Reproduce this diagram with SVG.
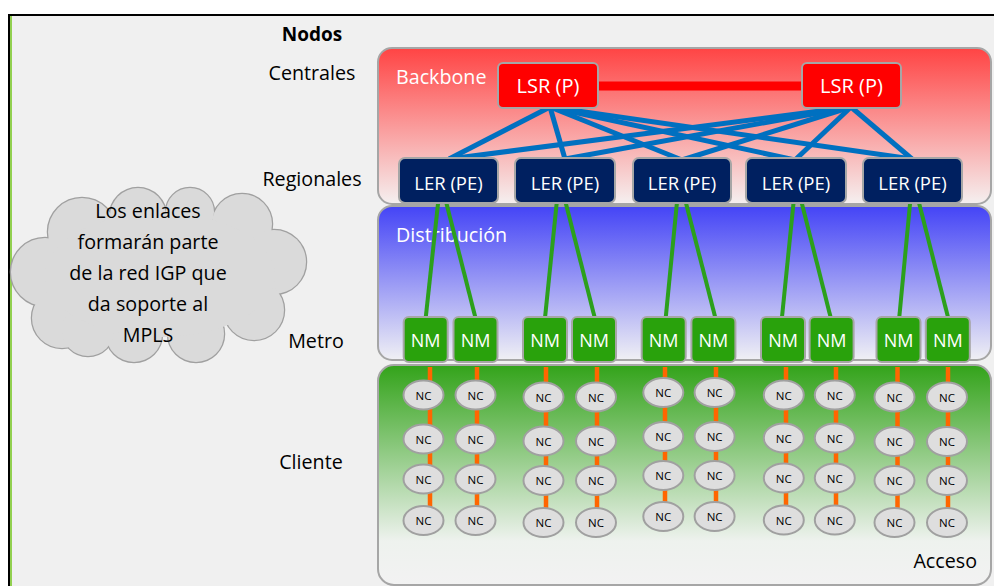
<svg xmlns="http://www.w3.org/2000/svg" width="994" height="586" viewBox="0 0 994 586">
  <defs>
    <linearGradient id="gBack" x1="0" y1="0" x2="0" y2="1">
      <stop offset="0" stop-color="#ff4444"/>
      <stop offset="1" stop-color="#f5f0f0"/>
    </linearGradient>
    <linearGradient id="gDist" x1="0" y1="0" x2="0" y2="1">
      <stop offset="0" stop-color="#4444f6"/>
      <stop offset="1" stop-color="#f0f0f4"/>
    </linearGradient>
    <linearGradient id="gAcc" x1="0" y1="0" x2="0" y2="1">
      <stop offset="0" stop-color="#33a31a"/>
      <stop offset="0.8" stop-color="#eef2ee"/>
      <stop offset="1" stop-color="#f2f2f2"/>
    </linearGradient>
    <style>
      text { font-family: "Open Sans", "Noto Sans", "Liberation Sans", sans-serif; }
      .lbl { font-size: 19.7px; fill: #000; text-anchor: middle; }
      .wlbl { font-size: 19.7px; fill: #fff; }
      .panel { stroke: #a6a6a6; stroke-width: 2; }
      .lsr rect { fill: #ff0000; stroke: #a6a6a6; stroke-width: 2; }
      .lsr text { fill: #fff; font-size: 20px; text-anchor: middle; }
      .ler rect { fill: #002060; stroke: #a6a6a6; stroke-width: 2; }
      .ler text { fill: #fff; font-size: 18.5px; text-anchor: middle; }
      .nm rect { fill: #29a20c; stroke: #a6a6a6; stroke-width: 2; }
      .nm text { fill: #fff; font-size: 18px; text-anchor: middle; }
      .nc ellipse { fill: #dedede; stroke: #a0a0a0; stroke-width: 2; }
      .nc text { fill: #000; font-size: 11.5px; text-anchor: middle; }
      .blue line { stroke: #0070c0; stroke-width: 5; }
      .green line { stroke: #2ca01c; stroke-width: 4; }
      .orange line { stroke: #ff6600; stroke-width: 4.5; }
      .cloudS { fill: none; stroke: #a0a0a0; stroke-width: 2.5; }
      .cloudF { fill: #dadada; stroke: none; }
    </style>
  </defs>

  <!-- frame -->
  <rect x="0" y="0" width="994" height="586" fill="#ffffff"/>
  <rect x="10" y="16" width="984" height="570" fill="#f0f0f0"/>
  <line x1="8" y1="15" x2="994" y2="15" stroke="#000" stroke-width="2"/>
  <line x1="9" y1="14" x2="9" y2="586" stroke="#000" stroke-width="2"/>
  <line x1="11" y1="16" x2="11" y2="586" stroke="#92d050" stroke-width="2"/>

  <!-- panels -->
  <g id="panel-backbone">
    <rect class="panel" x="378" y="48" width="613" height="156" rx="14" fill="url(#gBack)"/>
    <text class="wlbl" x="396" y="84">Backbone</text>
  </g>
  <g id="panel-distribucion">
    <rect class="panel" x="378" y="206" width="613" height="154" rx="14" fill="url(#gDist)"/>
    <text class="wlbl" x="396" y="242">Distribución</text>
  </g>
  <g id="panel-acceso">
    <rect class="panel" x="378" y="365" width="613" height="220" rx="16" fill="url(#gAcc)"/>
    <text class="lbl" x="977" y="568" style="text-anchor:end">Acceso</text>
  </g>

  <!-- level labels -->
  <g id="labels">
    <text class="lbl" x="312" y="41" style="font-weight:bold;font-size:19px">Nodos</text>
    <text class="lbl" x="312" y="80">Centrales</text>
    <text class="lbl" x="312" y="186">Regionales</text>
    <text class="lbl" x="316" y="348">Metro</text>
    <text class="lbl" x="311" y="469">Cliente</text>
  </g>

  <!-- cloud note -->
  <g id="cloud">
    <g class="cloudS">
      <circle cx="45" cy="272" r="34"/>
      <circle cx="62" cy="318" r="30"/>
      <circle cx="82" cy="232" r="34"/>
      <circle cx="138" cy="216" r="28"/>
      <circle cx="190" cy="212" r="24"/>
      <circle cx="242" cy="224" r="30"/>
      <circle cx="274" cy="262" r="32"/>
      <circle cx="254" cy="310" r="30"/>
      <circle cx="196" cy="334" r="28"/>
      <circle cx="134" cy="334" r="28"/>
      <circle cx="88" cy="330" r="26"/>
    </g>
    <g class="cloudF">
      <circle cx="45" cy="272" r="34"/>
      <circle cx="62" cy="318" r="30"/>
      <circle cx="82" cy="232" r="34"/>
      <circle cx="138" cy="216" r="28"/>
      <circle cx="190" cy="212" r="24"/>
      <circle cx="242" cy="224" r="30"/>
      <circle cx="274" cy="262" r="32"/>
      <circle cx="254" cy="310" r="30"/>
      <circle cx="196" cy="334" r="28"/>
      <circle cx="134" cy="334" r="28"/>
      <circle cx="88" cy="330" r="26"/>
      <ellipse cx="160" cy="275" rx="115" ry="62"/>
    </g>
    <text class="lbl" x="148" y="218">Los enlaces</text>
    <text class="lbl" x="148" y="249">formarán parte</text>
    <text class="lbl" x="148" y="280">de la red IGP que</text>
    <text class="lbl" x="148" y="311">da soporte al</text>
    <text class="lbl" x="148" y="342">MPLS</text>
  </g>

  <!-- connectors -->
  <g id="connectors">
    <line x1="598" y1="86" x2="802" y2="86" stroke="#ff0000" stroke-width="9"/>
    <g class="blue">
      <line x1="550" y1="107" x2="449" y2="159"/>
      <line x1="550" y1="107" x2="565" y2="159"/>
      <line x1="550" y1="107" x2="682" y2="160"/>
      <line x1="550" y1="107" x2="795" y2="160"/>
      <line x1="550" y1="107" x2="912" y2="159"/>
      <line x1="851" y1="107" x2="449" y2="159"/>
      <line x1="851" y1="107" x2="565" y2="159"/>
      <line x1="851" y1="107" x2="682" y2="160"/>
      <line x1="851" y1="107" x2="795" y2="160"/>
      <line x1="851" y1="107" x2="912" y2="159"/>
    </g>
    <g class="green">
      <line x1="438.4" y1="200" x2="425.7" y2="318"/>
      <line x1="445.6" y1="200" x2="475.5" y2="318"/>
      <line x1="557" y1="200" x2="545" y2="318"/>
      <line x1="565" y1="200" x2="594.8" y2="318"/>
      <line x1="677.2" y1="200" x2="665.7" y2="318"/>
      <line x1="685.2" y1="200" x2="715.4" y2="318"/>
      <line x1="793.8" y1="200" x2="781.9" y2="318"/>
      <line x1="801" y1="200" x2="830.8" y2="318"/>
      <line x1="910.4" y1="200" x2="899.2" y2="318"/>
      <line x1="918.3" y1="200" x2="948.2" y2="318"/>
    </g>
    <g class="orange">
      <line x1="430" y1="367" x2="430" y2="520"/>
      <line x1="477" y1="367" x2="477" y2="520"/>
      <line x1="546" y1="367" x2="546" y2="522"/>
      <line x1="597" y1="367" x2="597" y2="522"/>
      <line x1="665" y1="367" x2="665" y2="516"/>
      <line x1="716" y1="367" x2="716" y2="516"/>
      <line x1="786" y1="367" x2="786" y2="520"/>
      <line x1="836" y1="367" x2="836" y2="520"/>
      <line x1="897.5" y1="367" x2="897.5" y2="522"/>
      <line x1="948" y1="367" x2="948" y2="522"/>
    </g>
  </g>

  <!-- LSR -->
  <g id="lsr-1" class="lsr"><rect x="498" y="63" width="100" height="45" rx="5"/><text x="548" y="93">LSR (P)</text></g>
  <g id="lsr-2" class="lsr"><rect x="802" y="63" width="99" height="45" rx="5"/><text x="851.5" y="93">LSR (P)</text></g>

  <!-- LER -->
  <g id="ler-1" class="ler"><rect x="399" y="158" width="99" height="45" rx="6"/><text x="448.5" y="190">LER (PE)</text></g>
  <g id="ler-2" class="ler"><rect x="515" y="158" width="100" height="45" rx="6"/><text x="565" y="190">LER (PE)</text></g>
  <g id="ler-3" class="ler"><rect x="633" y="158" width="98" height="45" rx="6"/><text x="682" y="190">LER (PE)</text></g>
  <g id="ler-4" class="ler"><rect x="746" y="158" width="100" height="45" rx="6"/><text x="796" y="190">LER (PE)</text></g>
  <g id="ler-5" class="ler"><rect x="863" y="158" width="99" height="45" rx="6"/><text x="912.5" y="190">LER (PE)</text></g>

  <!-- NM -->
  <g id="nm-1" class="nm"><rect x="403.7" y="317" width="44" height="45" rx="5"/><text x="425.7" y="347">NM</text></g>
  <g id="nm-2" class="nm"><rect x="453.5" y="317" width="44" height="45" rx="5"/><text x="475.5" y="347">NM</text></g>
  <g id="nm-3" class="nm"><rect x="523" y="317" width="44" height="45" rx="5"/><text x="545" y="347">NM</text></g>
  <g id="nm-4" class="nm"><rect x="572" y="317" width="44" height="45" rx="5"/><text x="594" y="347">NM</text></g>
  <g id="nm-5" class="nm"><rect x="641.7" y="317" width="44" height="45" rx="5"/><text x="663.7" y="347">NM</text></g>
  <g id="nm-6" class="nm"><rect x="691.4" y="317" width="44" height="45" rx="5"/><text x="713.4" y="347">NM</text></g>
  <g id="nm-7" class="nm"><rect x="761" y="317" width="44" height="45" rx="5"/><text x="783" y="347">NM</text></g>
  <g id="nm-8" class="nm"><rect x="809.6" y="317" width="44" height="45" rx="5"/><text x="831.6" y="347">NM</text></g>
  <g id="nm-9" class="nm"><rect x="876.5" y="317" width="44" height="45" rx="5"/><text x="898.5" y="347">NM</text></g>
  <g id="nm-10" class="nm"><rect x="925.8" y="317" width="44" height="45" rx="5"/><text x="947.8" y="347">NM</text></g>

  <!-- NC column 1 -->
  <g id="nc-1-1" class="nc"><ellipse cx="423.5" cy="395" rx="20" ry="14.5"/><text x="423.5" y="399.5">NC</text></g>
  <g id="nc-1-2" class="nc"><ellipse cx="423.5" cy="439" rx="20" ry="14.5"/><text x="423.5" y="443.5">NC</text></g>
  <g id="nc-1-3" class="nc"><ellipse cx="423.5" cy="479" rx="20" ry="14.5"/><text x="423.5" y="483.5">NC</text></g>
  <g id="nc-1-4" class="nc"><ellipse cx="423.5" cy="520.5" rx="20" ry="14.5"/><text x="423.5" y="525">NC</text></g>
  <!-- column 2 -->
  <g id="nc-2-1" class="nc"><ellipse cx="475.5" cy="395" rx="20" ry="14.5"/><text x="475.5" y="399.5">NC</text></g>
  <g id="nc-2-2" class="nc"><ellipse cx="475.5" cy="439" rx="20" ry="14.5"/><text x="475.5" y="443.5">NC</text></g>
  <g id="nc-2-3" class="nc"><ellipse cx="475.5" cy="479" rx="20" ry="14.5"/><text x="475.5" y="483.5">NC</text></g>
  <g id="nc-2-4" class="nc"><ellipse cx="475.5" cy="520.5" rx="20" ry="14.5"/><text x="475.5" y="525">NC</text></g>
  <!-- column 3 -->
  <g id="nc-3-1" class="nc"><ellipse cx="543.5" cy="397" rx="20" ry="14.5"/><text x="543.5" y="401.5">NC</text></g>
  <g id="nc-3-2" class="nc"><ellipse cx="543.5" cy="441" rx="20" ry="14.5"/><text x="543.5" y="445.5">NC</text></g>
  <g id="nc-3-3" class="nc"><ellipse cx="543.5" cy="480.5" rx="20" ry="14.5"/><text x="543.5" y="485">NC</text></g>
  <g id="nc-3-4" class="nc"><ellipse cx="543.5" cy="522.5" rx="20" ry="14.5"/><text x="543.5" y="527">NC</text></g>
  <!-- column 4 -->
  <g id="nc-4-1" class="nc"><ellipse cx="596" cy="397" rx="20" ry="14.5"/><text x="596" y="401.5">NC</text></g>
  <g id="nc-4-2" class="nc"><ellipse cx="596" cy="441" rx="20" ry="14.5"/><text x="596" y="445.5">NC</text></g>
  <g id="nc-4-3" class="nc"><ellipse cx="596" cy="480.5" rx="20" ry="14.5"/><text x="596" y="485">NC</text></g>
  <g id="nc-4-4" class="nc"><ellipse cx="596" cy="522.5" rx="20" ry="14.5"/><text x="596" y="527">NC</text></g>
  <!-- column 5 -->
  <g id="nc-5-1" class="nc"><ellipse cx="663.3" cy="392.5" rx="20" ry="14.5"/><text x="663.3" y="397">NC</text></g>
  <g id="nc-5-2" class="nc"><ellipse cx="663.3" cy="436.5" rx="20" ry="14.5"/><text x="663.3" y="441">NC</text></g>
  <g id="nc-5-3" class="nc"><ellipse cx="663.3" cy="475.5" rx="20" ry="14.5"/><text x="663.3" y="480">NC</text></g>
  <g id="nc-5-4" class="nc"><ellipse cx="663.3" cy="516.5" rx="20" ry="14.5"/><text x="663.3" y="521">NC</text></g>
  <!-- column 6 -->
  <g id="nc-6-1" class="nc"><ellipse cx="714.6" cy="392.5" rx="20" ry="14.5"/><text x="714.6" y="397">NC</text></g>
  <g id="nc-6-2" class="nc"><ellipse cx="714.6" cy="436.5" rx="20" ry="14.5"/><text x="714.6" y="441">NC</text></g>
  <g id="nc-6-3" class="nc"><ellipse cx="714.6" cy="475.5" rx="20" ry="14.5"/><text x="714.6" y="480">NC</text></g>
  <g id="nc-6-4" class="nc"><ellipse cx="714.6" cy="516.5" rx="20" ry="14.5"/><text x="714.6" y="521">NC</text></g>
  <!-- column 7 -->
  <g id="nc-7-1" class="nc"><ellipse cx="783.8" cy="395" rx="20" ry="14.5"/><text x="783.8" y="399.5">NC</text></g>
  <g id="nc-7-2" class="nc"><ellipse cx="783.8" cy="438" rx="20" ry="14.5"/><text x="783.8" y="442.5">NC</text></g>
  <g id="nc-7-3" class="nc"><ellipse cx="783.8" cy="478" rx="20" ry="14.5"/><text x="783.8" y="482.5">NC</text></g>
  <g id="nc-7-4" class="nc"><ellipse cx="783.8" cy="520" rx="20" ry="14.5"/><text x="783.8" y="524.5">NC</text></g>
  <!-- column 8 -->
  <g id="nc-8-1" class="nc"><ellipse cx="834.8" cy="395" rx="20" ry="14.5"/><text x="834.8" y="399.5">NC</text></g>
  <g id="nc-8-2" class="nc"><ellipse cx="834.8" cy="438" rx="20" ry="14.5"/><text x="834.8" y="442.5">NC</text></g>
  <g id="nc-8-3" class="nc"><ellipse cx="834.8" cy="478" rx="20" ry="14.5"/><text x="834.8" y="482.5">NC</text></g>
  <g id="nc-8-4" class="nc"><ellipse cx="834.8" cy="520" rx="20" ry="14.5"/><text x="834.8" y="524.5">NC</text></g>
  <!-- column 9 -->
  <g id="nc-9-1" class="nc"><ellipse cx="894.5" cy="397" rx="20" ry="14.5"/><text x="894.5" y="401.5">NC</text></g>
  <g id="nc-9-2" class="nc"><ellipse cx="894.5" cy="441.5" rx="20" ry="14.5"/><text x="894.5" y="446">NC</text></g>
  <g id="nc-9-3" class="nc"><ellipse cx="894.5" cy="480.5" rx="20" ry="14.5"/><text x="894.5" y="485">NC</text></g>
  <g id="nc-9-4" class="nc"><ellipse cx="894.5" cy="522.5" rx="20" ry="14.5"/><text x="894.5" y="527">NC</text></g>
  <!-- column 10 -->
  <g id="nc-10-1" class="nc"><ellipse cx="947" cy="397" rx="20" ry="14.5"/><text x="947" y="401.5">NC</text></g>
  <g id="nc-10-2" class="nc"><ellipse cx="947" cy="441.5" rx="20" ry="14.5"/><text x="947" y="446">NC</text></g>
  <g id="nc-10-3" class="nc"><ellipse cx="947" cy="480.5" rx="20" ry="14.5"/><text x="947" y="485">NC</text></g>
  <g id="nc-10-4" class="nc"><ellipse cx="947" cy="522.5" rx="20" ry="14.5"/><text x="947" y="527">NC</text></g>
</svg>
